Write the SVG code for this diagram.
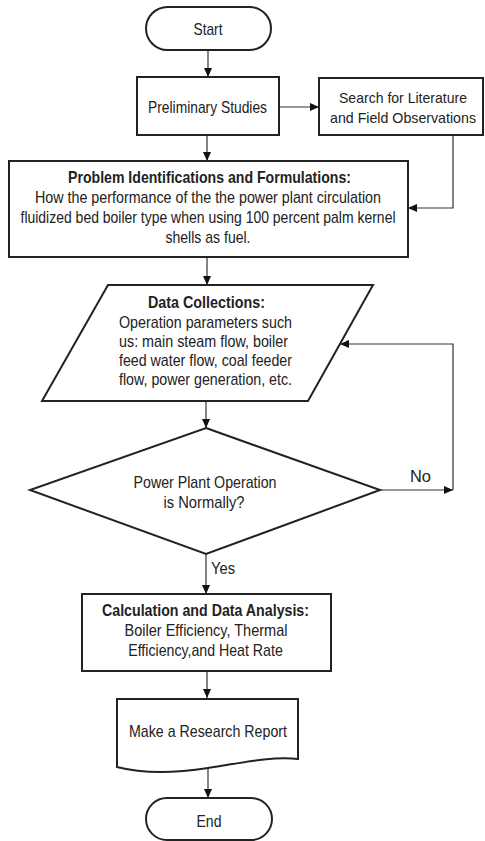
<svg xmlns="http://www.w3.org/2000/svg" width="485" height="841" viewBox="0 0 485 841">
<defs>
<style>
.shape{fill:#fff;stroke:#222;stroke-width:2}
.conn{fill:none;stroke:#333;stroke-width:1.2}
text{font-family:"Liberation Sans",Arial,sans-serif;font-size:17px;fill:#222}
.c{text-anchor:middle}
.b{font-weight:bold}
.s{font-size:15px}
</style>
<marker id="ah" viewBox="0 0 10 10" refX="10" refY="5" markerWidth="9" markerHeight="9" markerUnits="userSpaceOnUse" orient="auto">
<path d="M0,0.5 L10,5 L0,9.5 z" fill="#111"/>
</marker>
</defs>
<rect width="485" height="841" fill="#fff"/>

<g id="connectors">
<line class="conn" x1="208" y1="50" x2="208" y2="77" marker-end="url(#ah)"/>
<line class="conn" x1="279" y1="107" x2="319" y2="107" marker-end="url(#ah)"/>
<line class="conn" x1="207" y1="135" x2="207" y2="161" marker-end="url(#ah)"/>
<polyline class="conn" points="453,135 453,208 408,208" marker-end="url(#ah)"/>
<line class="conn" x1="207" y1="257" x2="207" y2="285" marker-end="url(#ah)"/>
<line class="conn" x1="206" y1="401" x2="206" y2="428" marker-end="url(#ah)"/>
<line class="conn" x1="380" y1="490" x2="453" y2="490" marker-end="url(#ah)"/>
<polyline class="conn" points="453,490 453,344 340,344" marker-end="url(#ah)"/>
<line class="conn" x1="206" y1="554" x2="206" y2="594" marker-end="url(#ah)"/>
<line class="conn" x1="207" y1="671" x2="207" y2="698" marker-end="url(#ah)"/>
<line class="conn" x1="208" y1="768" x2="208" y2="798" marker-end="url(#ah)"/>
<text x="410" y="482" textLength="21" lengthAdjust="spacingAndGlyphs">No</text>
<text x="211" y="574" textLength="24" lengthAdjust="spacingAndGlyphs">Yes</text>
</g>

<g id="start">
<rect class="shape" x="146" y="7" width="125" height="43" rx="21.5"/>
<text class="c" x="208" y="35" textLength="29" lengthAdjust="spacingAndGlyphs">Start</text>
</g>

<g id="preliminary">
<rect class="shape" x="137" y="77" width="142" height="58"/>
<text class="c" x="207.5" y="113" textLength="119" lengthAdjust="spacingAndGlyphs">Preliminary Studies</text>
</g>

<g id="search">
<rect class="shape" x="319" y="78" width="164" height="57"/>
<text class="c s" x="403" y="103" textLength="128" lengthAdjust="spacingAndGlyphs">Search for Literature</text>
<text class="c s" x="403" y="123" textLength="146" lengthAdjust="spacingAndGlyphs">and Field Observations</text>
</g>

<g id="problem">
<rect class="shape" x="9" y="161" width="399" height="96"/>
<text class="c b" x="209.5" y="183" textLength="283" lengthAdjust="spacingAndGlyphs">Problem Identifications and Formulations:</text>
<text class="c" x="208" y="203" textLength="346" lengthAdjust="spacingAndGlyphs">How the performance of the  the power plant circulation</text>
<text class="c" x="208" y="223" textLength="375" lengthAdjust="spacingAndGlyphs">fluidized bed boiler type  when using 100 percent palm kernel</text>
<text class="c" x="208" y="243" textLength="85" lengthAdjust="spacingAndGlyphs">shells as fuel.</text>
</g>

<g id="data">
<polygon class="shape" points="108,285 373,285 308,401 42,401"/>
<text class="c b" x="206.5" y="308" textLength="117" lengthAdjust="spacingAndGlyphs">Data Collections:</text>
<text x="119" y="328" textLength="173" lengthAdjust="spacingAndGlyphs">Operation parameters such</text>
<text x="119" y="347" textLength="169" lengthAdjust="spacingAndGlyphs">us: main steam flow, boiler</text>
<text x="119" y="366" textLength="173" lengthAdjust="spacingAndGlyphs">feed water flow,  coal feeder</text>
<text x="119" y="385" textLength="173" lengthAdjust="spacingAndGlyphs">flow, power generation, etc.</text>
</g>

<g id="decision">
<polygon class="shape" points="206,428 380,490 206,554 30,490"/>
<text class="c" x="205" y="488" textLength="143" lengthAdjust="spacingAndGlyphs">Power Plant Operation</text>
<text class="c" x="204" y="508" textLength="81" lengthAdjust="spacingAndGlyphs">is Normally?</text>
</g>

<g id="calculation">
<rect class="shape" x="82" y="594" width="249" height="77"/>
<text class="c b" x="205.5" y="616" textLength="207" lengthAdjust="spacingAndGlyphs">Calculation and Data Analysis:</text>
<text class="c" x="206" y="636" textLength="163" lengthAdjust="spacingAndGlyphs">Boiler Efficiency, Thermal</text>
<text class="c" x="205.5" y="656" textLength="154.5" lengthAdjust="spacingAndGlyphs">Efficiency,and Heat Rate</text>
</g>

<g id="report">
<path class="shape" d="M117,699 H298 V759 C275,756 245,762 208,768 C170,774 140,773 117,767 Z"/>
<text class="c" x="208" y="737" textLength="158" lengthAdjust="spacingAndGlyphs">Make a Research Report</text>
</g>

<g id="end">
<rect class="shape" x="146" y="798" width="126" height="42" rx="21"/>
<text class="c" x="209" y="827" textLength="25" lengthAdjust="spacingAndGlyphs">End</text>
</g>
</svg>
